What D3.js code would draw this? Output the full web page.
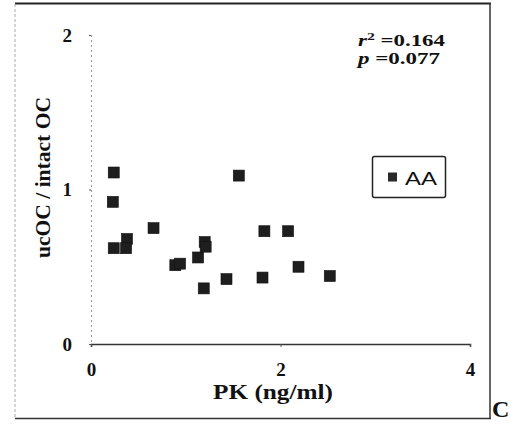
<!DOCTYPE html>
<html>
<head>
<meta charset="utf-8">
<script src="https://cdn.jsdelivr.net/npm/d3@7"></script>
<style>
  html, body { margin: 0; padding: 0; background: #fff; }
  svg { display: block; }
</style>
</head>
<body>
<svg id="chart" width="511" height="424"></svg>
<script>
// Phylloquinone (PK) vs. ucOC / intact OC ratio, AA group
const pk    = [0.24, 0.23, 0.24, 0.38, 0.37, 0.66, 0.89, 0.94, 1.13, 1.20, 1.21, 1.19, 1.43, 1.56, 1.81, 1.83, 2.08, 2.19, 2.52];
const ratio = [1.11, 0.92, 0.62, 0.68, 0.62, 0.75, 0.51, 0.52, 0.56, 0.66, 0.63, 0.36, 0.42, 1.09, 0.43, 0.73, 0.73, 0.50, 0.44];
const xTicks = [0, 2, 4];
const yTicks = [0, 1, 2];
const seriesName = "AA";
const stats = [["r", "2", "=0.164"], ["p", "", "=0.077"]];

const svg = d3.select("#chart");
const serif = "'Liberation Serif', 'Times New Roman', serif";
const sans = "'Liberation Sans', Arial, sans-serif";

const x = d3.scaleLinear().domain([0, 4]).range([91, 470]);
const y = d3.scaleLinear().domain([0, 2]).range([344, 35]);

// outer frame
svg.append("line").attr("x1", 15).attr("x2", 491).attr("y1", 3.5).attr("y2", 3.5)
  .attr("stroke", "#222").attr("stroke-width", 2);
svg.append("line").attr("x1", 490).attr("x2", 490).attr("y1", 3).attr("y2", 419)
  .attr("stroke", "#333").attr("stroke-width", 1.5);
svg.append("line").attr("x1", 15).attr("x2", 491).attr("y1", 418.5).attr("y2", 418.5)
  .attr("stroke", "#333").attr("stroke-width", 1.6);
svg.append("line").attr("x1", 15).attr("x2", 15).attr("y1", 4).attr("y2", 419)
  .attr("stroke", "#aaa").attr("stroke-width", 1).attr("stroke-dasharray", "3,2");

// y axis (faint dotted)
const gy = svg.append("g").attr("transform", `translate(${x(0)},0)`)
  .call(d3.axisLeft(y).tickValues(yTicks).tickFormat(d3.format("d")).tickSize(2).tickPadding(17));
gy.select(".domain").attr("stroke", "#999").attr("stroke-dasharray", "2,3").attr("stroke-width", 1);
gy.selectAll(".tick line").attr("stroke", "#555");
gy.selectAll(".tick text").attr("font-family", serif).attr("font-size", 19)
  .attr("font-weight", "bold").attr("fill", "#111");

// x axis
const gx = svg.append("g").attr("transform", `translate(0,${y(0)})`)
  .call(d3.axisBottom(x).tickValues(xTicks).tickFormat(d3.format("d")).tickSize(3).tickPadding(16));
gx.select(".domain").attr("stroke", "#333").attr("stroke-width", 1.6);
gx.selectAll(".tick line").attr("stroke", "#555");
gx.selectAll(".tick text").attr("font-family", serif).attr("font-size", 19)
  .attr("font-weight", "bold").attr("fill", "#111");

// points
const pts = pk.map((v, i) => ({ pk: v, r: ratio[i] }));
const s = 11;
svg.append("g").selectAll("rect").data(pts).join("rect")
  .attr("x", d => x(d.pk) - s / 2)
  .attr("y", d => y(d.r) - s / 2)
  .attr("width", s).attr("height", s)
  .attr("fill", "#1e1e1e").attr("stroke", "#111").attr("stroke-width", 0.6);

// axis titles
svg.append("text").attr("x", 273).attr("y", 399)
  .attr("text-anchor", "middle").attr("font-family", serif).attr("font-weight", "bold")
  .attr("font-size", 21).attr("textLength", 120).attr("lengthAdjust", "spacingAndGlyphs")
  .attr("fill", "#111").text("PK  (ng/ml)");

svg.append("text").attr("transform", "translate(50,177.5) rotate(-90)")
  .attr("text-anchor", "middle").attr("font-family", serif).attr("font-weight", "bold")
  .attr("font-size", 21).attr("textLength", 161).attr("lengthAdjust", "spacingAndGlyphs")
  .attr("fill", "#111").text("ucOC / intact OC");

// statistics
stats.forEach((st, i) => {
  const t = svg.append("text").attr("x", 358).attr("y", 46 + i * 18)
    .attr("font-family", serif).attr("font-weight", "bold").attr("font-size", 16)
    .attr("fill", "#111").attr("textLength", i === 0 ? 87 : 82).attr("lengthAdjust", "spacingAndGlyphs");
  t.append("tspan").attr("font-style", "italic").text(st[0]);
  if (st[1]) t.append("tspan").attr("font-size", 11).attr("dy", -6).text(st[1]);
  t.append("tspan").attr("dy", st[1] ? 6 : 0).text(" " + st[2]);
});

// legend
const lg = svg.append("g");
lg.append("rect").attr("x", 372.5).attr("y", 156.5).attr("width", 73).attr("height", 41)
  .attr("rx", 2).attr("fill", "#fff").attr("stroke", "#222").attr("stroke-width", 1.5);
lg.append("rect").attr("x", 388).attr("y", 172.5).attr("width", 9).attr("height", 9)
  .attr("fill", "#2a2a2a");
lg.append("text").attr("x", 405).attr("y", 185)
  .attr("font-family", sans).attr("font-size", 19).attr("fill", "#111")
  .attr("textLength", 32).attr("lengthAdjust", "spacingAndGlyphs").text(seriesName);

// panel letter
svg.append("text").attr("x", 492).attr("y", 417)
  .attr("font-family", serif).attr("font-weight", "bold").attr("font-size", 24)
  .attr("fill", "#111").text("C");
</script>
</body>
</html>
